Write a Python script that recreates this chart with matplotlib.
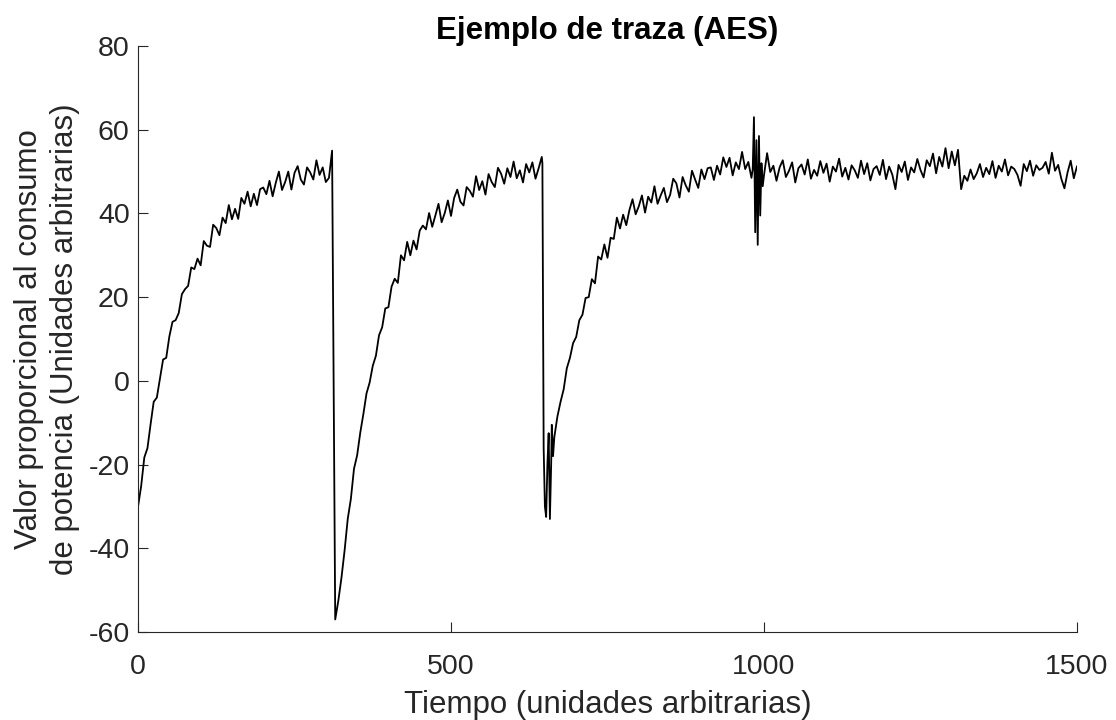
"""
Traza de consumo de potencia (AES) - estilo MATLAB.
"""
import numpy as np
import matplotlib
matplotlib.use('Agg')
import matplotlib.pyplot as plt

# ── Datos ─────────────────────────────────────────────────────────────────────
# serie principal, muestreada cada 5 unidades de 0 a 1500
paso = 5
valores = [
    # 0 - 310
    -30.0, -25.1, -18.3, -16.1, -10.4, -5.0, -4.0, 0.5, 5.1, 5.5,
    10.6, 14.1, 14.5, 16.2, 20.7, 21.9, 22.7, 27.1, 26.7, 29.2,
    27.6, 33.4, 32.3, 32.0, 37.3, 36.5, 34.8, 39.0, 37.7, 42.0,
    38.6, 41.1, 38.7, 43.7, 42.3, 45.2, 41.7, 44.7, 42.0, 45.8,
    46.2, 44.6, 47.8, 44.1, 47.3, 50.0, 45.6, 47.5, 50.0, 45.7,
    49.7, 51.3, 48.1, 46.9, 51.0, 49.8, 48.1, 52.7, 49.2, 51.0,
    47.5, 48.5, 55.0,
    # 315 - 645
    -57.0, -52.5, -47.0, -40.5, -33.0, -28.2, -21.0, -17.8, -12.4, -7.9,
    -3.0, -0.4, 3.6, 6.0, 10.9, 12.8, 17.3, 17.6, 22.5, 24.4,
    23.4, 30.0, 28.8, 33.2, 30.0, 33.5, 31.4, 35.9, 37.1, 36.2,
    40.1, 36.8, 39.5, 42.3, 37.9, 40.1, 43.1, 39.4, 43.7, 45.7,
    42.8, 41.9, 46.3, 45.4, 44.0, 48.9, 45.6, 47.7, 44.5, 49.4,
    47.5, 46.3, 50.9, 49.5, 47.1, 50.8, 48.7, 52.4, 48.4, 50.3,
    47.4, 51.8, 49.8, 52.2, 48.3, 50.8, 53.5,
    # 650 - 980
    -30.5, -13.0, -33.0, -13.5, -8.5, -5.0, -2.0, 3.0, 5.5, 9.0,
    10.5, 14.5, 15.8, 19.8, 20.0, 24.3, 23.3, 29.7, 29.0, 32.6,
    29.4, 34.2, 33.9, 39.0, 36.4, 39.7, 37.2, 40.8, 43.4, 39.8,
    41.7, 44.3, 40.2, 44.0, 42.6, 46.5, 42.3, 44.3, 46.1, 42.7,
    44.4, 48.3, 47.2, 43.8, 48.7, 46.7, 45.2, 50.2, 48.1, 46.1,
    50.5, 48.2, 50.8, 51.0, 48.0, 51.4, 49.3, 53.4, 51.1, 53.3,
    49.1, 52.2, 50.6, 54.7, 50.6, 52.3, 48.5,
    # 985 - 1500
    49.0, 47.0, 44.0,
    49.1, 54.4, 49.9, 51.4, 47.8, 51.0, 52.7, 48.7, 50.2, 52.2,
    47.4, 50.8, 51.7, 49.3, 52.9, 48.3, 50.4, 49.0, 52.5, 49.7,
    51.9, 47.6, 51.2, 50.0, 53.1, 48.8, 50.9, 48.1, 51.5, 50.3,
    48.5, 52.6, 49.4, 52.0, 47.9, 50.6, 51.3, 49.2, 52.8, 48.2,
    51.2, 49.3, 45.8, 51.6, 49.9, 52.4, 48.0, 51.0, 49.8, 53.0,
    50.4, 48.6, 52.7, 51.3, 54.3, 49.6, 53.5, 51.2, 55.6, 50.8,
    54.8, 51.5, 55.2, 45.8, 49.0, 47.8, 50.5, 48.2, 49.6, 51.8,
    48.7, 50.9, 49.4, 52.5, 48.5, 51.4, 50.0, 52.9, 49.1, 51.2,
    50.6, 49.2, 46.6, 51.8, 50.1, 52.6, 49.0, 51.5, 50.4, 50.9,
    52.3, 49.5, 54.5, 50.2, 51.6, 48.3, 46.0, 49.8, 52.6, 48.4,
    51.2,
]

# detalle fino: oscilaciones tras la caída (~650) y ráfaga (~990)
detalle_t = [646, 648, 650, 652, 654, 656, 658, 660, 661, 663,
             982, 984, 986, 988, 990, 992, 994, 996, 998]
detalle_v = [52.0, -16.0, -30.0, -32.5, -20.0, -12.5, -33.0, -20.0, -10.5, -18.0,
             50.5, 63.0, 35.5, 57.5, 32.5, 58.5, 39.5, 52.0, 46.5]

# ── Montar la serie ───────────────────────────────────────────────────────────
t = np.arange(len(valores)) * paso
v = np.array(valores)
mask = ~(((t >= 646) & (t <= 664)) | ((t >= 981) & (t <= 999)))
t_all = np.concatenate([t[mask], detalle_t])
v_all = np.concatenate([v[mask], detalle_v])
orden = np.argsort(t_all, kind="stable")
t_all, v_all = t_all[orden], v_all[orden]

# ── Figura ────────────────────────────────────────────────────────────────────
plt.rcParams['font.family'] = ['Liberation Sans', 'DejaVu Sans']
plt.rcParams['axes.unicode_minus'] = False
GRIS = "#262626"

fig = plt.figure(figsize=(11.16, 7.2), dpi=100)
ax = fig.add_axes([0.1237, 0.1222, 0.965 - 0.1237, 0.9361 - 0.1222])

ax.plot(t_all, v_all, color="black", lw=1.3)

ax.set_xlim(0, 1500)
ax.set_ylim(-60, 80)
ax.set_xticks([0, 500, 1000, 1500])
ax.set_yticks(np.arange(-60, 81, 20))

for s in ["top", "right"]:
    ax.spines[s].set_visible(False)
for s in ["left", "bottom"]:
    ax.spines[s].set_color(GRIS)
    ax.spines[s].set_linewidth(0.8)

ax.tick_params(direction="in", length=7, width=0.8, colors=GRIS, labelsize=20.5)
ax.tick_params(axis="x", pad=16)
ax.tick_params(axis="y", pad=6)

ax.set_xlabel("Tiempo (unidades arbitrarias)", fontsize=22.5, color=GRIS, labelpad=7)
ax.set_ylabel("Valor proporcional al consumo\nde potencia (Unidades arbitrarias)",
              fontsize=22.5, color=GRIS, labelpad=6, linespacing=1.25)
ax.set_title("Ejemplo de traza (AES)", fontsize=22.5, fontweight="bold",
             color="black", pad=1)

plt.savefig("out.png", dpi=100)
plt.close()
